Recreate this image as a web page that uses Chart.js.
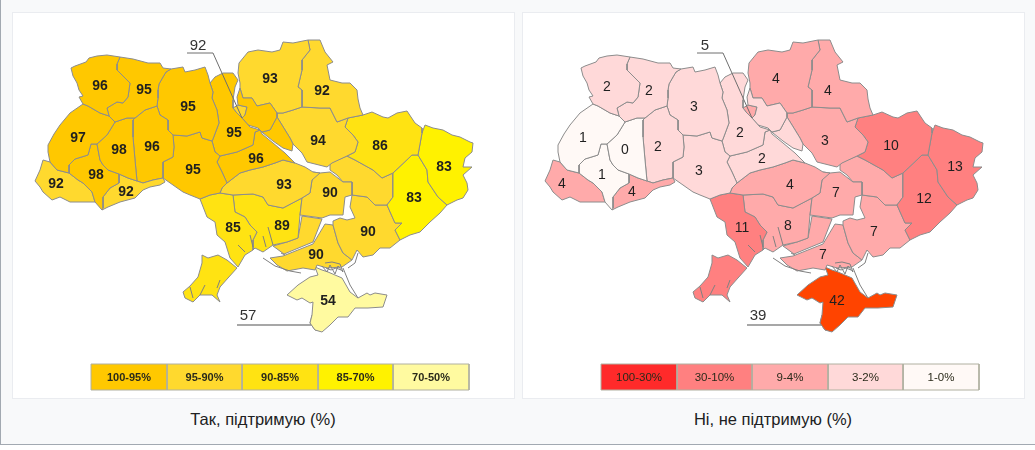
<!DOCTYPE html>
<html><head><meta charset="utf-8">
<script src="https://cdn.jsdelivr.net/npm/chart.js@4"></script>
<style>
html,body{margin:0;padding:0;background:#fff;width:1035px;height:450px;overflow:hidden}
#frame{position:absolute;left:0;top:0;width:1100px;height:444px;background:#f8f9fa;border-left:1px solid #a2a9b1;border-bottom:1px solid #a2a9b1;box-sizing:content-box}
.card{position:absolute;top:12px;width:501px;height:385px;background:#fff;border:1px solid #eaecf0}
canvas{position:absolute;left:0;top:0;filter:blur(.35px)}
.cap{position:absolute;top:410px;font:16.5px/18px "Liberation Sans",Arial,sans-serif;color:#202122;text-align:center;width:502px}
</style></head><body>
<div id="frame"></div>
<div class="card" style="left:12px"><canvas id="yes" width="500" height="384"></canvas></div>
<div class="card" style="left:522px"><canvas id="no" width="500" height="384"></canvas></div>
<div class="cap" style="left:12px">Так, підтримую (%)</div>
<div class="cap" style="left:522px">Ні, не підтримую (%)</div>
<script>
// Outlines, in picture coordinates of the left map
const volyn=[[71,68],[75,66],[86,62],[89,58],[97,56],[107,55],[120,57],[117,64],[117,70],[122,75],[130,83],[129,90],[128,97],[123,103],[117,102],[107,108],[109,116],[100,113],[88,106],[83,104],[79,97],[83,96],[79,90],[77,83],[73,76]];
const rivne=[[120,57],[133,59],[148,63],[160,63],[163,68],[171,69],[166,72],[163,77],[159,84],[158,90],[158,98],[157,106],[145,110],[135,118],[127,118],[115,122],[109,116],[107,108],[117,102],[123,103],[128,97],[129,90],[130,83],[122,75],[117,70],[117,64]];
const lviv=[[83,104],[88,106],[100,113],[109,116],[115,122],[107,135],[97,144],[91,144],[88,155],[75,159],[69,165],[69,173],[57,170],[50,162],[48,152],[48,145],[54,134],[60,125],[70,113]];
const ternopil=[[115,122],[127,118],[135,118],[133,120],[133,137],[135,160],[137,181],[128,178],[119,174],[108,170],[103,165],[100,160],[97,144],[107,135]];
const ivanoFrankivsk=[[97,144],[100,160],[103,165],[108,170],[119,174],[119,183],[110,188],[103,197],[103,208],[102,210],[95,202],[92,192],[83,183],[78,180],[69,173],[69,165],[75,159],[88,155],[91,144]];
const zakarpattia=[[43,160],[50,162],[57,170],[69,173],[78,180],[83,183],[92,192],[95,202],[83,202],[70,202],[60,197],[52,200],[43,192],[40,187],[35,181],[40,170]];
const chernivtsi=[[119,174],[128,178],[137,181],[143,183],[153,180],[163,178],[165,182],[160,185],[150,187],[143,190],[135,198],[120,202],[108,207],[102,210],[103,208],[103,197],[110,188],[119,183]];
const khmelnytskyi=[[135,118],[145,110],[157,106],[160,115],[168,120],[168,130],[173,135],[174,147],[173,157],[163,162],[163,178],[153,180],[143,183],[137,181],[135,160],[133,137],[133,120]];
const zhytomyr=[[171,69],[183,67],[185,72],[195,70],[205,67],[208,75],[210,83],[213,92],[212,98],[217,110],[219,123],[213,139],[212,141],[202,138],[200,132],[187,136],[173,135],[168,130],[168,120],[160,115],[157,106],[158,98],[158,90],[159,84],[163,77],[166,72]];
const vinnytsia=[[173,135],[187,136],[200,132],[202,138],[212,141],[215,152],[220,156],[217,162],[222,172],[227,183],[222,188],[220,193],[210,195],[200,199],[190,195],[183,192],[173,185],[163,178],[163,162],[173,157],[174,147]];
const kyivWest=[[210,83],[215,77],[223,73],[233,73],[238,80],[235,87],[233,100],[233,108],[236,112],[242,118],[250,127],[260,130],[255,132],[253,145],[237,152],[220,156],[215,152],[212,141],[213,139],[219,123],[217,110],[212,98],[213,92]];
const kyivEast=[[240,88],[243,98],[252,98],[257,106],[270,103],[277,113],[277,117],[270,130],[262,132],[258,128],[248,125],[242,118],[245,115],[247,107],[238,105],[237,97]];
const kyivCity=[[233,108],[238,105],[247,107],[245,115],[242,118],[236,112]];
const cherkasyWest=[[220,156],[237,152],[253,145],[255,132],[260,130],[262,134],[273,143],[285,153],[295,163],[283,160],[275,163],[263,167],[250,170],[240,173],[227,183],[222,172],[217,162]];
const cherkasyEast=[[258,128],[262,132],[270,130],[277,117],[282,125],[290,138],[293,144],[292,151],[283,148],[273,141],[263,133]];
const chernihiv=[[239,63],[248,52],[258,50],[272,52],[280,50],[283,42],[293,43],[308,40],[310,50],[302,60],[302,70],[298,87],[302,90],[302,107],[293,110],[283,113],[277,113],[270,103],[257,106],[252,98],[243,98],[240,88],[240,83],[238,73]];
const sumy=[[308,40],[320,40],[325,52],[333,62],[327,65],[330,80],[342,83],[350,83],[357,90],[358,99],[360,108],[363,115],[348,118],[337,122],[330,108],[320,108],[302,107],[302,90],[298,87],[302,70],[302,60],[310,50]];
const poltava=[[277,113],[283,113],[293,110],[302,107],[320,108],[330,108],[337,122],[348,118],[345,127],[353,135],[358,142],[355,152],[347,156],[332,163],[327,167],[307,162],[302,153],[293,144],[290,138],[282,125],[277,117]];
const kharkiv=[[345,127],[348,118],[363,115],[372,112],[383,117],[388,118],[397,113],[407,111],[415,123],[422,128],[422,133],[418,155],[412,155],[393,173],[382,178],[373,170],[355,160],[347,156],[355,152],[358,142],[353,135]];
const luhansk=[[425,125],[433,128],[443,130],[452,135],[460,137],[470,142],[473,143],[472,152],[465,158],[463,167],[472,167],[463,175],[467,183],[468,190],[463,198],[457,200],[447,205],[438,197],[428,182],[427,170],[418,155],[422,133]];
const donetsk=[[393,173],[412,155],[418,155],[427,170],[428,182],[438,197],[447,205],[440,213],[430,222],[420,232],[410,235],[400,240],[395,230],[402,223],[395,223],[387,205],[393,197]];
const kirovohrad=[[227,183],[240,173],[250,170],[263,167],[275,163],[283,160],[295,163],[305,167],[313,172],[320,173],[312,180],[310,193],[302,198],[283,208],[268,205],[263,197],[253,194],[233,195],[220,193],[222,188]];
const dniproWest=[[313,172],[320,173],[330,172],[343,182],[352,182],[352,195],[345,197],[343,215],[330,215],[322,218],[300,215],[302,198],[310,193],[312,180]];
const dniproEast=[[330,163],[347,156],[355,160],[373,170],[382,178],[393,173],[393,197],[387,205],[375,205],[367,197],[352,195],[352,182],[343,182],[337,175],[330,170]];
const zaporizhzhia=[[352,195],[367,197],[375,205],[387,205],[395,223],[402,223],[395,230],[400,240],[390,248],[380,248],[373,255],[363,257],[357,250],[352,260],[343,253],[338,243],[333,225],[333,221],[340,218],[347,220],[355,218],[350,207]];
const odesaNorth=[[200,199],[210,195],[220,193],[233,195],[235,212],[245,217],[250,225],[257,232],[253,240],[253,250],[245,255],[238,267],[230,258],[225,242],[217,235],[215,222],[207,217]];
const odesaSouth=[[202,255],[208,258],[218,255],[227,260],[237,268],[228,278],[220,287],[217,295],[220,302],[212,295],[200,295],[193,302],[185,298],[183,292],[190,286],[198,277],[202,263]];
const mykolaiv=[[233,195],[253,194],[263,197],[268,205],[283,208],[302,198],[300,215],[298,238],[287,242],[273,245],[263,252],[255,248],[253,250],[253,240],[257,232],[250,225],[245,217],[235,212]];
const khersonNorth=[[302,216],[322,219],[313,242],[284,254],[273,246],[287,242],[298,238]];
const khersonSouth=[[270,258],[283,256],[313,244],[325,224],[333,225],[338,243],[343,253],[352,260],[342,267],[327,268],[317,265],[315,270],[303,268],[287,271],[277,265]];
const crimea=[[315,267],[318,275],[310,277],[298,285],[287,295],[297,300],[302,298],[310,303],[313,302],[312,315],[310,323],[315,330],[322,332],[330,325],[338,317],[348,317],[355,308],[368,308],[383,307],[387,295],[375,293],[370,295],[367,293],[358,298],[350,292],[342,278],[335,275],[328,272],[322,270]];
const sevastopol=[[312,315],[320,323],[321,331],[315,330],[310,323]];

// Thin unfilled lines: leaders, limans, spits, Sivash
const leaderTop=[[187,53],[213,53],[242,118]];
const leaderBottom=[[237,325],[311,325]];
const waterLines=[
  [[238,245],[245,252]],[[250,235],[253,247]],[[268,227],[273,245]],[[263,236],[266,247]],
  [[190,287],[193,298]],[[200,295],[205,285]],[[217,288],[220,280]],
  [[263,258],[275,266],[290,271],[301,273]],
  [[281,253],[285,255]],
  [[343,268],[350,285],[358,298]],
  [[348,268],[355,263],[358,253]],
  [[322,266],[327,272],[330,265],[335,274],[338,266],[343,272],[340,264],[332,262],[325,263]],
  [[326,268],[331,270],[336,268],[341,270]]
];

const outlines=[volyn,rivne,lviv,ternopil,ivanoFrankivsk,zakarpattia,chernivtsi,khmelnytskyi,zhytomyr,vinnytsia,kyivWest,kyivEast,kyivCity,cherkasyWest,cherkasyEast,chernihiv,sumy,poltava,kharkiv,luhansk,donetsk,kirovohrad,dniproWest,dniproEast,zaporizhzhia,odesaNorth,odesaSouth,mykolaiv,khersonNorth,khersonSouth,crimea,sevastopol];
// Colour band of each outline, same order as outlines
const yesBands=[0,0,0,0,0,1,1,0,0,0,0,0,1,0,0,1,1,1,2,3,3,1,1,1,1,2,2,2,1,1,4,4];
const noBands =[3,3,4,4,4,2,2,3,3,3,3,3,2,3,3,2,2,2,1,1,1,2,2,2,2,1,1,2,2,2,5,5];

const yesValues=[96,95,97,98,96,98,92,92,95,95,95,96,93,92,94,86,83,83,93,90,85,89,90,90,54];
const yesAnchors=[[100,86],[144,90],[78,138],[119,150],[152,147],[96,175],[56,184],[126,192],[188,107],[193,170],[234,133],[256,159],[270,79],[322,91],[318,141],[380,146],[444,167],[414,198],[284,185],[330,193],[233,228],[282,226],[368,232],[316,255],[328,301]];
const noValues=[2,2,1,0,2,1,4,4,3,3,2,2,4,4,3,10,13,12,4,7,11,8,7,7,42];
const noAnchors=[[97,87],[139,91],[73,138],[115,150],[148,147],[92,175],[52,184],[122,192],[184,107],[189,171],[230,133],[252,159],[266,79],[318,91],[315,141],[381,146],[445,167],[414,199],[280,185],[326,193],[232,228],[278,226],[364,232],[313,255],[327,301]];
const yesCallouts=[[92,198,46],[57,248,316]];
const noCallouts=[[5,195,46],[39,248,316]];

const yesLegend=['100-95%','95-90%','90-85%','85-70%','70-50%'];
const noLegend=['100-30%','30-10%','9-4%','3-2%','1-0%'];
const legendEdges=[91,167,242,318,393,469];
const legendTop=364, legendBottom=390;

const yesPalette=['#ffc800','#ffd92e','#ffe312','#fff200','#fffaa0'];
const noPalette=['#ff2a2a','#ff8080','#ffaaaa','#ffd9d9','#fff9f6','#ff4400'];
const FONT='"Liberation Sans",Arial,sans-serif';

const toPts=a=>a.map(p=>({x:p[0],y:p[1]}));
const closed=a=>toPts(a.concat([a[0]]));

const polyFill={id:'polyFill',
  beforeDatasetDraw(chart,args){
    const ds=chart.data.datasets[args.index];
    if(!ds.polygon)return;
    const ctx=chart.ctx,pts=args.meta.data;
    ctx.save();ctx.beginPath();
    pts.forEach((p,i)=>i?ctx.lineTo(p.x,p.y):ctx.moveTo(p.x,p.y));
    ctx.closePath();ctx.fillStyle=ds.backgroundColor;ctx.fill();ctx.restore();
  }};

function textPlugin(cfg){return {id:'mapText',
  afterDatasetsDraw(chart){
    const ctx=chart.ctx,X=chart.scales.x,Y=chart.scales.y;
    ctx.save();ctx.textAlign='center';ctx.textBaseline='middle';
    ctx.fillStyle='#1f1f1f';ctx.font=cfg.valueFont;
    cfg.values.forEach((v,i)=>ctx.fillText(String(v),X.getPixelForValue(cfg.anchors[i][0]),Y.getPixelForValue(cfg.anchors[i][1])));
    ctx.fillStyle='#333';ctx.font='15px '+FONT;
    cfg.callouts.forEach(c=>ctx.fillText(String(c[0]),X.getPixelForValue(c[1]),Y.getPixelForValue(c[2])));
    ctx.fillStyle='#2a2a1a';ctx.font=cfg.legendFont;
    cfg.legend.forEach((t,i)=>ctx.fillText(t,X.getPixelForValue((legendEdges[i]+legendEdges[i+1])/2),Y.getPixelForValue((legendTop+legendBottom)/2+.5)));
    ctx.restore();
  }};}

function build(id,bands,palette,cfg,legendPalette){
  const datasets=[];
  datasets.push({data:toPts(leaderTop),showLine:true,borderColor:'#6e6e6e',borderWidth:1,pointRadius:0,order:0});
  datasets.push({data:toPts(leaderBottom),showLine:true,borderColor:'#8a8a8a',borderWidth:1.4,pointRadius:0,order:0});
  waterLines.forEach(w=>datasets.push({data:toPts(w),showLine:true,borderColor:'#808080',borderWidth:1,pointRadius:0,order:1}));
  outlines.forEach((o,i)=>datasets.push({data:closed(o),polygon:true,showLine:true,backgroundColor:palette[bands[i]],borderColor:'#8c8c8c',borderWidth:1,pointRadius:0,order:2}));
  legendPalette.forEach((c,i)=>datasets.push({data:closed([[legendEdges[i],legendTop],[legendEdges[i+1],legendTop],[legendEdges[i+1],legendBottom],[legendEdges[i],legendBottom]]),polygon:true,showLine:true,backgroundColor:c,borderColor:'#b0b0a0',borderWidth:1,pointRadius:0,order:2}));
  new Chart(document.getElementById(id),{type:'scatter',
    data:{datasets},
    options:{responsive:false,animation:false,devicePixelRatio:1,
      layout:{padding:0},
      plugins:{legend:{display:false},tooltip:{enabled:false},title:{display:false}},
      scales:{x:{type:'linear',display:false,min:13,max:513},y:{type:'linear',display:false,reverse:true,min:13,max:397}},
      elements:{line:{tension:0,borderJoinStyle:'round'}}},
    plugins:[polyFill,textPlugin(cfg)]});
}
build('yes',yesBands,yesPalette,{values:yesValues,anchors:yesAnchors,callouts:yesCallouts,legend:yesLegend,valueFont:'bold 14px '+FONT,legendFont:'bold 11px '+FONT},yesPalette);
build('no',noBands,noPalette,{values:noValues,anchors:noAnchors,callouts:noCallouts,legend:noLegend,valueFont:'14px '+FONT,legendFont:'11.5px '+FONT},noPalette.slice(0,5));
</script>
</body></html>
